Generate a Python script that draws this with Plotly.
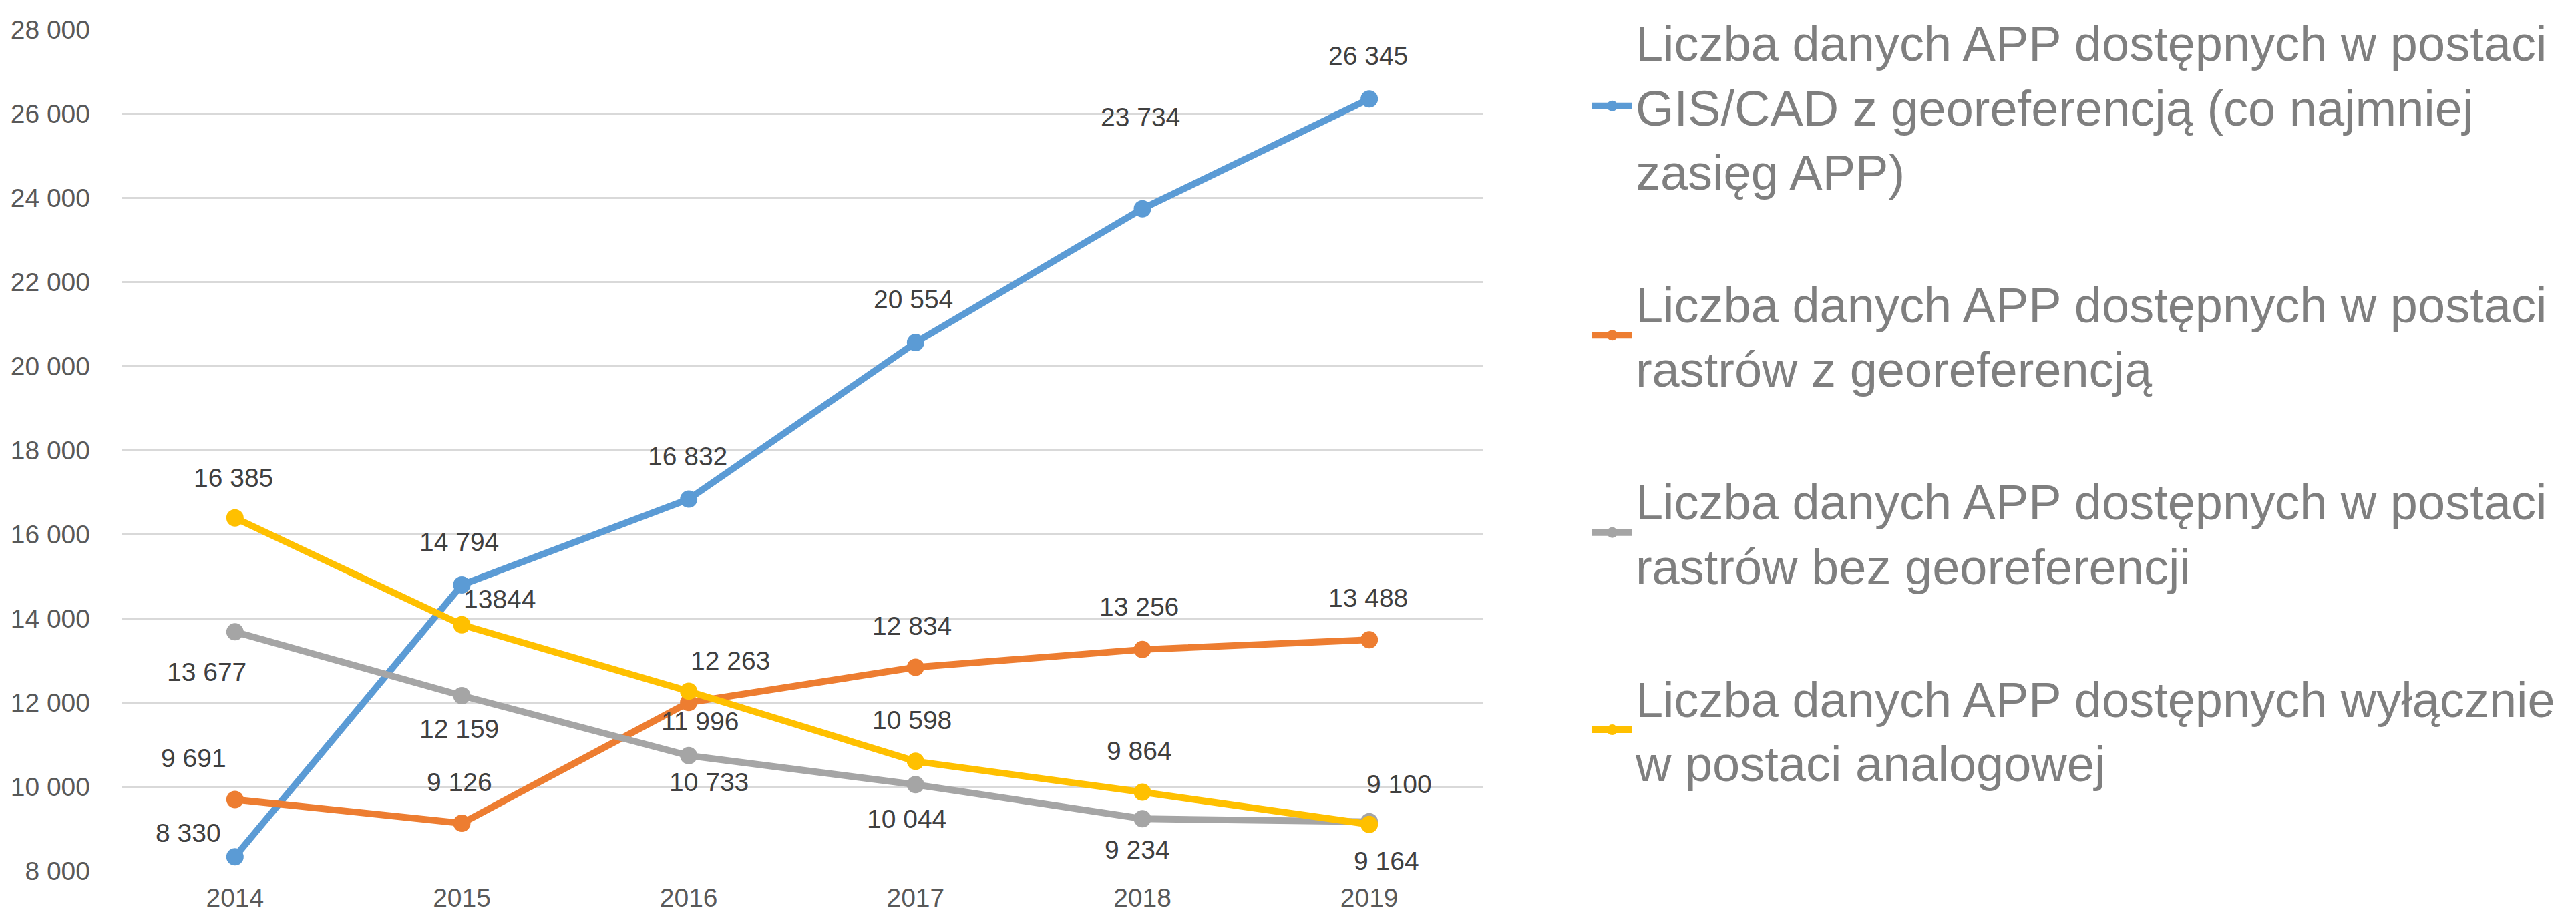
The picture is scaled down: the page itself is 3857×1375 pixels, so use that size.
import plotly.graph_objects as go

years = ["2014", "2015", "2016", "2017", "2018", "2019"]

gis_cad = [8330, 14794, 16832, 20554, 23734, 26345]
rastry_geo = [9691, 9126, 11996, 12834, 13256, 13488]
rastry_bez = [13677, 12159, 10733, 10044, 9234, 9164]
analogowe = [16385, 13844, 12263, 10598, 9864, 9100]

gis_cad_labels = ["8 330", "14 794", "16 832", "20 554", "23 734", "26 345"]
rastry_geo_labels = ["9 691", "9 126", "11 996", "12 834", "13 256", "13 488"]
rastry_bez_labels = ["13 677", "12 159", "10 733", "10 044", "9 234", "9 164"]
analogowe_labels = ["16 385", "13844", "12 263", "10 598", "9 864", "9 100"]

names = [
    "Liczba danych APP dostępnych w postaci<br>GIS/CAD z georeferencją (co najmniej<br>zasięg APP)",
    "Liczba danych APP dostępnych w postaci<br>rastrów z georeferencją",
    "Liczba danych APP dostępnych w postaci<br>rastrów bez georeferencji",
    "Liczba danych APP dostępnych wyłącznie<br>w postaci analogowej",
]

y_ticks = list(range(8000, 28001, 2000))

colors = ["#5B9BD5", "#ED7D31", "#A5A5A5", "#FFC000"]

# label offsets (pixels, dx right, dy down) relative to each point
offsets = [
    [(-70, -34), (-4, -62), (-2, -62), (-3, -63), (-3, -135), (-2, -63)],
    [(-62, -60), (-4, -60), (17, 30), (-5, -60), (-5, -62), (-2, -61)],
    [(-42, 62), (-4, 52), (30, 42), (-13, 53), (-8, 48), (26, 61)],
    [(-2, -58), (56, -36), (62, -44), (-5, -60), (-5, -60), (45, -58)],
]

series = [gis_cad, rastry_geo, rastry_bez, analogowe]
labels = [gis_cad_labels, rastry_geo_labels, rastry_bez_labels, analogowe_labels]

FONT = "Arial, Liberation Sans, sans-serif"

fig = go.Figure()
for i, (vals, name, col) in enumerate(zip(series, names, colors)):
    fig.add_trace(go.Scatter(
        x=years, y=vals, name=name, mode="lines+markers",
        line=dict(color=col, width=10),
        marker=dict(color=col, size=26, symbol="circle"),
        legendgroup=f"g{i}",
    ))

annotations = []
for vals, labs, offs in zip(series, labels, offsets):
    for idx, (v, lab, (dx, dy)) in enumerate(zip(vals, labs, offs)):
        annotations.append(dict(
            x=idx, y=v, xref="x", yref="y", text=lab, showarrow=False,
            xanchor="center", yanchor="middle",
            xshift=dx, yshift=-dy + 2,
            font=dict(family=FONT, size=39, color="#404040"),
        ))

# page body adds an 8px margin, so the figure is 16px smaller than the window
fig.update_layout(
    width=3841, height=1359,
    margin=dict(l=174, r=1629, t=36, b=63, autoexpand=False),
    paper_bgcolor="white", plot_bgcolor="white",
    separators=", ",
    font=dict(family=FONT, size=39, color="#595959"),
    annotations=annotations,
    showlegend=True,
    legend=dict(
        x=1.078, xanchor="left", y=1.0286, yanchor="top",
        font=dict(family=FONT, size=74, color="#7F7F7F"),
        tracegroupgap=100,
        itemwidth=60,
        maxheight=1350,
        bgcolor="rgba(0,0,0,0)",
    ),
)
fig.update_xaxes(
    type="category", categoryorder="array", categoryarray=years,
    range=[-0.5, 5.5], showgrid=False, showline=False, zeroline=False,
    ticks="", ticklabelstandoff=14,
    tickfont=dict(family=FONT, size=39, color="#595959"),
)
fig.update_yaxes(
    range=[8000, 28000], tickvals=y_ticks, tickformat=",d",
    showgrid=True, gridcolor="#D9D9D9", gridwidth=3,
    showline=False, zeroline=False, ticks="", ticklabelstandoff=46,
    tickfont=dict(family=FONT, size=39, color="#595959"),
)

fig.write_html("out.html")
